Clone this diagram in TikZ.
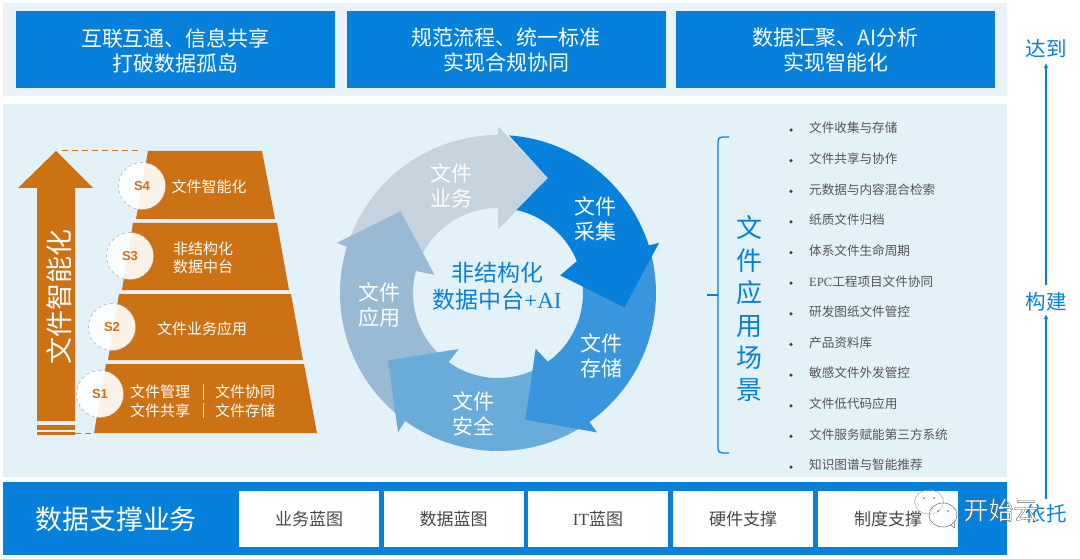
\documentclass[tikz,border=0pt]{standalone}
\usepackage{fontspec}
\usetikzlibrary{arrows.meta}
\setmainfont{Noto Sans CJK SC}
\newfontfamily\latinser{Liberation Serif}
\newfontfamily\latinsan{Liberation Sans}
\definecolor{bluemain}{HTML}{0780DC}
\definecolor{stripbg}{HTML}{EAF3F9}
\definecolor{mainbg}{HTML}{E3F1F8}
\definecolor{ochre}{HTML}{CC7114}
\definecolor{listgray}{HTML}{555555}
\newcommand{\fs}[1]{\fontsize{#1}{#1}\selectfont}
\tikzset{
  x=1pt,y=-1pt,
  topbox/.style={fill=bluemain,draw=none,minimum width=319pt,minimum height=77pt,inner sep=0pt},
  toptext/.style={text=white,align=center,inner sep=0pt,font=\fontsize{21}{25}\selectfont},
  supbox/.style={fill=white,draw=none,minimum width=140pt,minimum height=56pt,text=black!72,inner sep=0pt,font=\fs{17}},
  sideword/.style={text=bluemain,inner sep=0pt,font=\fs{20.5}},
  sidearrow/.style={draw=bluemain,line width=1.1pt,-{Stealth[length=5pt,width=4.5pt]}},
  stepdisc/.style={circle,minimum size=47pt,inner sep=0pt,fill=white,fill opacity=.9,text opacity=1,draw=black!30,dashed,line width=.6pt,text=ochre,font=\latinsan\bfseries\fs{13}},
  pyrtext/.style={text=white,inner sep=0pt,align=center,font=\fontsize{15}{18.5}\selectfont},
  ringtext/.style={text=white,inner sep=0pt,align=center,font=\fontsize{21}{25}\selectfont},
  listitem/.style={anchor=west,text=listgray,inner sep=0pt,font=\fs{12.6}},
  listdot/.style={circle,fill=black!75,minimum size=3.5pt,inner sep=0pt},
  orangedash/.style={draw=ochre,line width=1pt,dashed,dash pattern=on 6pt off 4pt},
}
\begin{document}
\begin{tikzpicture}
\useasboundingbox (0,0) rectangle (1080,559);
% backgrounds
\fill[stripbg] (3,3) rectangle (1007,96);
\fill[mainbg] (3,104) rectangle (1007,477);
\fill[bluemain] (3,482) rectangle (1007,555);
% top boxes
\node[topbox] (t1) at (175.5,49.5) {};
\node[topbox] (t2) at (506.5,49.5) {};
\node[topbox] (t3) at (835.5,49.5) {};
\node[toptext] (tt1) at (175.5,50.5) {互联互通、信息共享\\打破数据孤岛};
\node[toptext] (tt2) at (506,50.5) {规范流程、统一标准\\实现合规协同};
\node[toptext] (tt3) at (835.5,50.5) {数据汇聚、AI分析\\实现智能化};
% right axis
\node[sideword] (reach) at (1046,49) {达到};
\node[sideword] (build) at (1046,302) {构建};
\node[sideword] (rely) at (1046,514) {依托};
\draw[sidearrow] ([yshift=7pt]build.north) -- ([yshift=-5pt]reach.south);
\draw[sidearrow] ([yshift=5pt]rely.north) -- ([yshift=-3pt]build.south);
% pyramid
\fill[ochre] (148,151) -- (262,151) -- (275,219) -- (136,219) -- cycle;
\fill[ochre] (133,223) -- (277,223) -- (289,290) -- (122,290) -- cycle;
\fill[ochre] (119,294) -- (291,294) -- (303,360) -- (108,360) -- cycle;
\fill[ochre] (106,364) -- (304,364) -- (317,433) -- (94,433) -- cycle;
% big arrow
\fill[ochre] (56,151) -- (93,188) -- (75,188) -- (75,421) -- (37,421) -- (37,188) -- (18,188) -- cycle;
\fill[ochre] (37,425) rectangle (75,430);
\fill[ochre] (37,432) rectangle (75,435);
\coordinate (dashA) at (62,151);
\coordinate (dashB) at (142,151);
\coordinate (dashC) at (75,433);
\coordinate (dashD) at (94,433);
\draw[orangedash] (dashA) -- (dashB);
\draw[orangedash] (dashC) -- (dashD);
\node[rotate=90,text=white,inner sep=0pt,font=\fs{27}] (bigarrowlabel) at (59,297) {文件智能化};
% discs
\node[stepdisc] (s4) at (142,186) {S4};
\node[stepdisc] (s3) at (130,256) {S3};
\node[stepdisc] (s2) at (112,327) {S2};
\node[stepdisc] (s1) at (100,394) {S1};
\node[pyrtext] (p4) at (209,187) {文件智能化};
\node[pyrtext] (p3) at (203,258) {非结构化\\数据中台};
\node[pyrtext] (p2) at (202,329) {文件业务应用};
\node[pyrtext] (p1a) at (160,392) {文件管理};
\node[pyrtext] (p1b) at (245,392) {文件协同};
\node[pyrtext] (p1c) at (160,411) {文件共享};
\node[pyrtext] (p1d) at (245,411) {文件存储};
\draw[white!80!ochre,line width=.8pt] (203,384) -- (203,400) (203,403) -- (203,418);
% ring
\begin{scope}[shift={(498,293)},yscale=-1]
\fill[fill={rgb,255:red,197;green,211;blue,223}] (175:158) -- plot[domain=175:90,samples=40] (\x:158) -- (90:166.7) -- (66.5:125.3) -- (90:63.3) -- plot[domain=90:175,samples=40] (\x:85) -- cycle;
\fill[fill={rgb,255:red,154;green,185;blue,211}] plot[domain=230:163,samples=40] (\x:158) -- (162.7:168.7) -- (140:127.3) -- (164:66) -- plot[domain=165:230,samples=40] (\x:85) -- cycle;
\fill[fill={rgb,255:red,105;green,171;blue,217}] plot[domain=-50:-126,samples=40] (\x:158) -- (-125.7:171.3) -- (-148.5:129) -- (-125:68.3) -- plot[domain=-125.5:-50,samples=40] (\x:85) -- cycle;
\fill[fill={rgb,255:red,58;green,150;blue,220}] plot[domain=22:-54.7,samples=40] (\x:158) -- (-54.6:171) -- (-77.8:129.7) -- (-56:67.3) -- plot[domain=-54:22,samples=40] (\x:85) -- cycle;
\fill[bluemain] plot[domain=86:17.5,samples=40] (\x:158) -- (17.3:168.7) -- (-6.5:127.3) -- (15.8:64.7) -- plot[domain=22:77.5,samples=40] (\x:85) -- (66.5:125.3) -- cycle;
\end{scope}
\node[ringtext] (r1) at (451,185.5) {文件\\业务};
\node[ringtext] (r2) at (595,218.5) {文件\\采集};
\node[ringtext] (r3) at (601,355.5) {文件\\存储};
\node[ringtext] (r4) at (473,413.5) {文件\\安全};
\node[ringtext] (r5) at (379,305.5) {文件\\应用};
\node[text=bluemain,inner sep=0pt,align=center,font=\fontsize{23}{27}\selectfont] (core) at (497,286.5) {非结构化\\数据中台{\latinser +AI}};
% brace
\draw[draw=bluemain,line width=1.3pt,rounded corners=4pt] (729,137) -- (718,137) -- (718,453) -- (729,453);
\coordinate (braceTip) at (707,295);
\coordinate (braceJoin) at (718,295);
\draw[draw=bluemain,line width=1.3pt] (braceTip) -- (braceJoin);
\node[text=bluemain,inner sep=0pt,align=center,font=\fontsize{26}{32.4}\selectfont] (scene) at (749,309) {文\\件\\应\\用\\场\\景};
% list
\foreach \i/\t in {0/文件收集与存储,1/文件共享与协作,2/元数据与内容混合检索,3/纸质文件归档,4/体系文件生命周期,5/{{\latinser EPC}工程项目文件协同},6/研发图纸文件管控,7/产品资料库,8/敏感文件外发管控,9/文件低代码应用,10/文件服务赋能第三方系统,11/知识图谱与智能推荐}{
  \node[listdot] (d\i) at (791,130+30.64*\i) {};
  \node[listitem] (l\i) at (809,128+30.64*\i) {\t};
}
% bottom
\node[text=white,inner sep=0pt,font=\fs{27}] (support) at (116,519) {数据支撑业务};
\node[supbox] (b1) at (309,519) {业务蓝图};
\node[supbox] (b2) at (453.5,519) {数据蓝图};
\node[supbox] (b3) at (598,519) {{\latinser IT}蓝图};
\node[supbox] (b4) at (743,519) {硬件支撑};
\node[supbox] (b5) at (888,519) {制度支撑};
% watermark
\begin{scope}[line width=.5pt]
\draw[draw=black!35] (929,502) ellipse [x radius=14.5,y radius=12];
\filldraw[fill=white,fill opacity=.3,draw=black!60] (943,515) ellipse [x radius=14,y radius=12];
\draw[draw=black!60] (950,525) -- (955,528) -- (954,522);
\fill[black!50] (924,498) circle (1pt) (934,498) circle (1pt) (938,511) circle (1pt) (948,511) circle (1pt);
\end{scope}
\node[inner sep=0pt,text=white,font=\fs{25}] (mark) at (1001,510) {\special{pdf:code 2 Tr 0.35 w 0.35 G}开始云\special{pdf:code 0 Tr}};
\end{tikzpicture}
\end{document}
